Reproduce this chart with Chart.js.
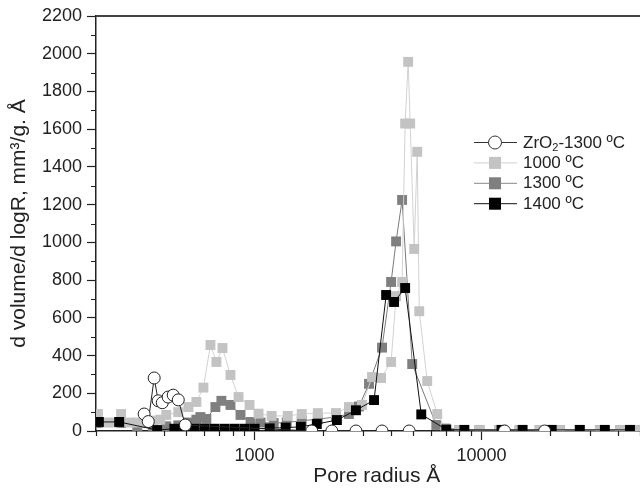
<!DOCTYPE html>
<html>
<head>
<meta charset="utf-8">
<script src="https://cdn.jsdelivr.net/npm/chart.js@4.4.1/dist/chart.umd.min.js"></script>
<style>
  html, body { margin: 0; padding: 0; background: #fff; overflow: hidden; }
</style>
</head>
<body>
<canvas id="poreChart" width="640" height="492"></canvas>
<script>
// pore radius (Å) and d volume/d logR readings, one pair of arrays per sample
const zrRadius = [326, 340, 361, 376, 392, 416, 438, 461, 495, 1787, 2191, 2798, 3646, 4802, 12640, 19000];
const zrVolume = [90, 50, 281, 160, 150, 180, 190, 165, 32, 0, 0, 0, 0, 0, 0, 0];

const r1000 = [204, 221, 240, 258, 280, 304, 329, 357, 384, 408, 461, 511, 554, 595, 639, 679, 722, 783, 850, 950,
  1041, 1189, 1400, 1614, 1900, 2283, 2606, 2975, 3294, 3610, 3998, 4206, 4470, 4609, 4754, 4852, 5054, 5212, 5320,
  5768, 6387, 6928, 7992, 9800, 12010, 14730, 18060, 22140, 27140, 33280, 40800, 49000];
const v1000 = [90, 45, 45, 90, 45, 45, 45, 55, 60, 85, 100, 127, 154, 230, 456, 366, 440, 297, 180, 138,
  92, 80, 80, 90, 95, 95, 127, 138, 286, 281, 366, 715, 790, 1630, 1957, 1630, 965, 1480, 635,
  265, 90, 15, 5, 5, 5, 5, 5, 5, 5, 5, 5, 5];

const r1300 = [204, 258, 304, 357, 408, 461, 511, 554, 577, 613, 672, 714, 783, 867, 960, 1063, 1214, 1386, 1614, 1900,
  2283, 2606, 2885, 3195, 3646, 3998, 4206, 4470, 4953, 6324, 7992, 9800, 12010, 14730, 18060, 22140, 27140, 33280, 40800, 49000];
const v1300 = [42, 42, 20, 20, 25, 30, 45, 60, 74, 64, 127, 160, 138, 85, 48, 45, 42, 45, 55, 62,
  75, 90, 130, 250, 442, 790, 1005, 1225, 355, 32, 5, 5, 5, 5, 5, 5, 5, 5, 5, 5];

const r1400 = [206, 253, 372, 443, 490, 543, 601, 665, 737, 816, 903, 1000, 1166, 1371, 1599, 1881, 2306, 2798, 3363,
  3801, 4121, 4610, 5430, 7000, 8410, 12260, 15190, 20400, 27140, 35000, 45170];
const v1400 = [48, 48, 5, 12, 12, 12, 12, 12, 12, 12, 12, 12, 14, 18, 22, 37, 58, 110, 164,
  721, 684, 758, 88, 8, 6, 6, 6, 6, 6, 6, 6];

const seriesLabels = ['ZrO₂-1300 ºC', '1000 ºC', '1300 ºC', '1400 ºC'];
const xMajorTicks = [1000, 10000];
const xMinorTicks = [200, 300, 400, 500, 600, 700, 800, 900, 2000, 3000, 4000, 5000, 6000, 7000, 8000, 9000,
  20000, 30000, 40000, 50000];
const yMinorTicks = [100, 300, 500, 700, 900, 1100, 1300, 1500, 1700, 1900, 2100];

const FONT = "'Liberation Sans', Arial, sans-serif";
const INK = '#222';

function pairs(xs, ys) {
  return xs.map((x, i) => ({ x: x, y: ys[i] }));
}

// minor ticks + top frame line
const frameExtras = {
  id: 'frameExtras',
  afterDraw(chart) {
    const { ctx, chartArea, scales } = chart;
    ctx.save();
    ctx.strokeStyle = INK;
    ctx.lineWidth = 1.2;
    ctx.beginPath();
    yMinorTicks.forEach(v => {
      const py = Math.round(scales.y.getPixelForValue(v)) + 0.5;
      ctx.moveTo(chartArea.left - 5, py);
      ctx.lineTo(chartArea.left, py);
    });
    xMinorTicks.forEach(v => {
      const px = Math.round(scales.x.getPixelForValue(v)) + 0.5;
      ctx.moveTo(px, chartArea.bottom);
      ctx.lineTo(px, chartArea.bottom + 5);
    });
    ctx.stroke();
    ctx.strokeStyle = '#444';
    ctx.lineWidth = 2;
    ctx.beginPath();
    ctx.moveTo(chartArea.left, chartArea.top);
    ctx.lineTo(chartArea.right, chartArea.top);
    ctx.stroke();
    ctx.restore();
  }
};

// legend inside the plot, line with marker like the original
const sampleLegend = {
  id: 'sampleLegend',
  afterDraw(chart) {
    const ctx = chart.ctx;
    const lineX0 = 474, lineX1 = 517, markX = 495, textX = 523;
    ctx.save();
    chart.data.datasets.forEach((ds, i) => {
      const y = 142 + i * 20.4;
      ctx.strokeStyle = ds.legendLine;
      ctx.lineWidth = 1;
      ctx.beginPath();
      ctx.moveTo(lineX0, y + 0.5);
      ctx.lineTo(lineX1, y + 0.5);
      ctx.stroke();
      if (ds.pointStyle === 'circle') {
        ctx.fillStyle = '#fff';
        ctx.strokeStyle = '#333';
        ctx.beginPath();
        ctx.arc(markX, y + 0.5, 6.5, 0, Math.PI * 2);
        ctx.fill();
        ctx.stroke();
      } else {
        ctx.fillStyle = ds.pointBackgroundColor;
        ctx.fillRect(markX - 6, y - 5.5, 12, 12);
      }
      ctx.fillStyle = INK;
      ctx.textBaseline = 'middle';
      ctx.textAlign = 'left';
      let x = textX;
      ds.label.split(/(₂)/).forEach(part => {
        if (!part) return;
        if (part === '₂') {
          ctx.font = '11px ' + FONT;
          ctx.fillText('2', x, y + 6);
          x += ctx.measureText('2').width;
        } else {
          ctx.font = '17px ' + FONT;
          ctx.fillText(part, x, y + 1);
          x += ctx.measureText(part).width;
        }
      });
    });
    ctx.restore();
  }
};

const ctx = document.getElementById('poreChart').getContext('2d');
new Chart(ctx, {
  type: 'scatter',
  data: {
    datasets: [
      {
        label: seriesLabels[0], data: pairs(zrRadius, zrVolume), order: 0,
        borderColor: '#222', legendLine: '#333', pointStyle: 'circle', pointRadius: 6,
        pointBackgroundColor: '#fff', pointBorderColor: '#222', pointBorderWidth: 1
      },
      {
        label: seriesLabels[1], data: pairs(r1000, v1000), order: 2,
        borderColor: '#d2d2d2', legendLine: '#d0d0d0', pointStyle: 'rect', pointRadius: 7,
        pointBackgroundColor: '#c3c3c3', pointBorderColor: '#c3c3c3', pointBorderWidth: 0
      },
      {
        label: seriesLabels[2], data: pairs(r1300, v1300), order: 3,
        borderColor: '#7a7a7a', legendLine: '#888', pointStyle: 'rect', pointRadius: 7,
        pointBackgroundColor: '#7f7f7f', pointBorderColor: '#7f7f7f', pointBorderWidth: 0
      },
      {
        label: seriesLabels[3], data: pairs(r1400, v1400), order: 1,
        borderColor: '#111', legendLine: '#111', pointStyle: 'rect', pointRadius: 7,
        pointBackgroundColor: '#000', pointBorderColor: '#000', pointBorderWidth: 0
      }
    ].map(ds => Object.assign(ds, { showLine: true, borderWidth: 1, tension: 0, clip: 0 }))
  },
  options: {
    responsive: false,
    animation: false,
    events: [],
    layout: { autoPadding: false, padding: { top: 16, right: 0, bottom: 0, left: 0 } },
    plugins: { legend: { display: false }, tooltip: { enabled: false } },
    scales: {
      x: {
        type: 'logarithmic', min: 200, max: 50000, z: 1,
        afterBuildTicks: s => { s.ticks = xMajorTicks.map(v => ({ value: v })); },
        afterFit: s => { s.height = 61; s.paddingLeft = 0; s.paddingRight = 0; },
        ticks: { callback: v => String(v), color: INK, font: { family: FONT, size: 18 }, padding: 5, maxRotation: 0, autoSkip: false },
        grid: { drawOnChartArea: false, tickLength: 9, tickColor: INK, tickWidth: 1.2 },
        border: { display: true, color: INK, width: 1.5 },
        title: { display: true, text: '   Pore radius Å', color: INK, font: { family: FONT, size: 21 }, padding: { top: 0, bottom: 3 } }
      },
      y: {
        min: 0, max: 2200, z: 1,
        afterFit: s => { s.width = 96; },
        ticks: { stepSize: 200, callback: v => String(v), color: INK, font: { family: FONT, size: 18 }, padding: 5 },
        grid: { drawOnChartArea: false, tickLength: 9, tickColor: INK, tickWidth: 1.2 },
        border: { display: true, color: INK, width: 1.5 },
        title: { display: true, text: 'd volume/d logR, mm³/g. Å', color: INK, font: { family: FONT, size: 21 }, padding: { top: 7, bottom: 0 } }
      }
    }
  },
  plugins: [frameExtras, sampleLegend]
});
</script>
</body>
</html>
